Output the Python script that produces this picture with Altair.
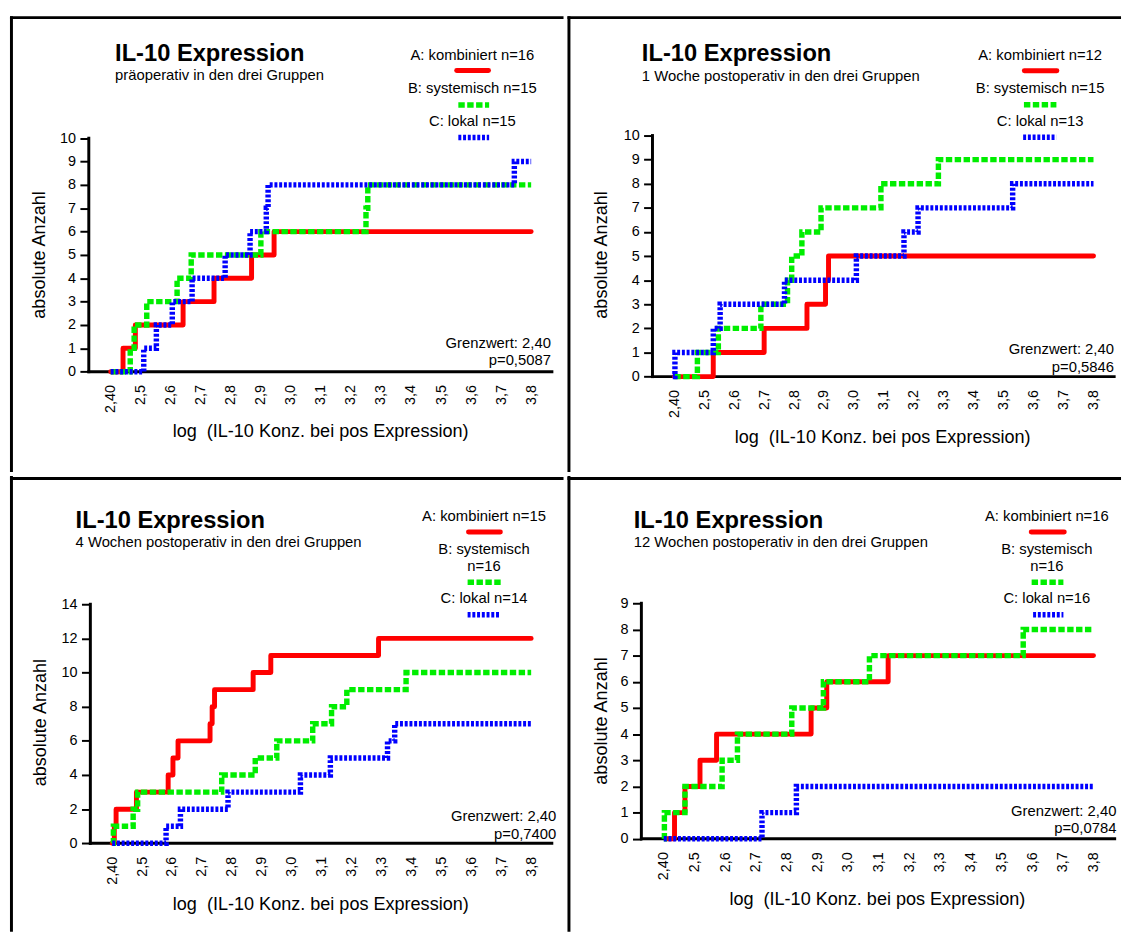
import altair as alt
import pandas as pd

# ---------------- data ----------------
x_tick_values = [2.4, 2.5, 2.6, 2.7, 2.8, 2.9, 3.0, 3.1, 3.2, 3.3, 3.4, 3.5, 3.6, 3.7, 3.8]
y_tick_values = [
    [0, 1, 2, 3, 4, 5, 6, 7, 8, 9, 10],
    [0, 1, 2, 3, 4, 5, 6, 7, 8, 9, 10],
    [0, 2, 4, 6, 8, 10, 12, 14],
    [0, 1, 2, 3, 4, 5, 6, 7, 8, 9],
]
y_max = [10, 10, 14, 9]

titles = ["IL-10 Expression", "IL-10 Expression", "IL-10 Expression", "IL-10 Expression"]
subtitles = [
    "präoperativ in den drei Gruppen",
    "1 Woche postoperativ in den drei Gruppen",
    "4 Wochen postoperativ in den drei Gruppen",
    "12 Wochen postoperativ in den drei Gruppen",
]
legend_texts = [
    ["A: kombiniert n=16", "B: systemisch n=15", "C: lokal n=15"],
    ["A: kombiniert n=12", "B: systemisch n=15", "C: lokal n=13"],
    ["A: kombiniert n=15", "B: systemisch\nn=16", "C: lokal n=14"],
    ["A: kombiniert n=16", "B: systemisch\nn=16", "C: lokal n=16"],
]
cutoff_text = "Grenzwert: 2,40"
p_texts = ["p=0,5087", "p=0,5846", "p=0,7400", "p=0,0784"]
y_title = "absolute Anzahl"
x_title = "log\u00a0 (IL-10 Konz. bei pos Expression)"

# Panel 1: präoperativ
p1_A_x = [2.40, 2.441, 2.482, 2.641, 2.744, 2.869, 2.944, 3.80]
p1_A_y = [0, 1, 2, 3, 4, 5, 6, 6]
p1_B_x = [2.40, 2.465, 2.478, 2.520, 2.621, 2.668, 2.900, 3.250, 3.256, 3.80]
p1_B_y = [0, 1, 2, 3, 4, 5, 6, 7, 8, 8]
p1_C_x = [2.40, 2.510, 2.552, 2.605, 2.671, 2.781, 2.864, 2.918, 2.924, 3.744, 3.80]
p1_C_y = [0, 1, 2, 3, 4, 5, 6, 7, 8, 9, 9]

# Panel 2: 1 Woche
p2_A_x = [2.40, 2.530, 2.700, 2.843, 2.905, 2.915, 3.80]
p2_A_y = [0, 1, 2, 3, 4, 5, 5]
p2_B_x = [2.40, 2.477, 2.547, 2.689, 2.778, 2.792, 2.826, 2.890, 3.090, 3.282, 3.80]
p2_B_y = [0, 1, 2, 3, 4, 5, 6, 7, 8, 9, 9]
p2_C_x = [2.395, 2.402, 2.530, 2.553, 2.768, 3.008, 3.167, 3.214, 3.530, 3.80]
p2_C_y = [0, 1, 2, 3, 4, 5, 6, 7, 8, 8]

# Panel 3: 4 Wochen
p3_A_x = [2.40, 2.407, 2.413, 2.481, 2.587, 2.603, 2.620, 2.727, 2.734, 2.742, 2.871, 2.930, 3.290, 3.80]
p3_A_y = [0, 1, 2, 3, 4, 5, 6, 7, 8, 9, 10, 11, 12, 12]
p3_B_x = [2.40, 2.404, 2.470, 2.485, 2.766, 2.878, 2.950, 3.070, 3.133, 3.184, 3.382, 3.80]
p3_B_y = [0, 1, 2, 3, 4, 5, 6, 7, 8, 9, 10, 10]
p3_C_x = [2.40, 2.580, 2.628, 2.787, 3.029, 3.129, 3.320, 3.344, 3.80]
p3_C_y = [0, 1, 2, 3, 4, 5, 6, 7, 7]

# Panel 4: 12 Wochen
p4_A_x = [2.41, 2.435, 2.469, 2.518, 2.572, 2.880, 2.931, 3.131, 3.80]
p4_A_y = [0, 1, 2, 3, 4, 5, 6, 7, 7]
p4_B_x = [2.40, 2.402, 2.469, 2.590, 2.640, 2.817, 2.920, 3.070, 3.571, 3.80]
p4_B_y = [0, 1, 2, 3, 4, 5, 6, 7, 8, 8]
p4_C_x = [2.40, 2.720, 2.832, 3.80]
p4_C_y = [0, 1, 2, 2]

series = [
    [(p1_A_x, p1_A_y), (p1_B_x, p1_B_y), (p1_C_x, p1_C_y)],
    [(p2_A_x, p2_A_y), (p2_B_x, p2_B_y), (p2_C_x, p2_C_y)],
    [(p3_A_x, p3_A_y), (p3_B_x, p3_B_y), (p3_C_x, p3_C_y)],
    [(p4_A_x, p4_A_y), (p4_B_x, p4_B_y), (p4_C_x, p4_C_y)],
]

# ---------------- layout / style ----------------
FONT = "Liberation Sans"
W, H = 561, 462
CELL_ORIGIN = [(8, 8), (569, 8), (8, 470), (569, 470)]
# page pixel of x=2.40, x=3.8, y=0, y=ymax
ANCHORS = [(110.1, 536.2, 368.3, 131.7), (677.3, 1102.1, 373.3, 129),
           (111.6, 536.2, 842.3, 600), (666.6, 1102.1, 837.7, 599)]
AXIS_X0, AXIS_X1 = 2.327, 3.869
TITLE_POS = [(114.5, 53, 73), (644.4, 53.3, 73.3), (74.5, 522.7, 542.3), (636.2, 522.7, 542.3)]
LEG_CX = [476.6, 1048.0, 488.4, 1054.8]
LEG_BASE = [[52, 86, 119], [52.3, 86, 119], [515.7, 549, 599], [515.7, 549, 599]]
LEG_SW = [
    [(460.7, 493, 63), (462.4, 493.6, 98), (462.4, 493.6, 131)],
    [(1032, 1065, 63.3), (1031.6, 1064.5, 97.7), (1030.8, 1064.5, 130.7)],
    [(472.7, 505, 526.7), (471.8, 505.3, 577.7), (471.8, 505.3, 610.7)],
    [(1039, 1072.5, 526.7), (1039.4, 1071.6, 577.7), (1040.9, 1071.6, 610.7)],
]
GRENZ = [(556.2, 344, 362), (1122.8, 350.7, 368.3), (561.6, 820, 837.7), (1125.3, 815, 831.7)]
YTITLE = [(38.2, 250), (604, 250), (39.3, 720), (604, 718.3)]
XTITLE = [(322.8, 435), (888.4, 440.7), (323, 910), (883.1, 905)]
BORDERS = [(1.5, 1.5), (1.5, 1.5), (1.5, 2.5), (1.5, 2.5)]  # (left x, top y) local

STYLES = [
    dict(color="#ff0000", strokeWidth=5, strokeCap="round", strokeJoin="round"),
    dict(color="#00ee00", strokeWidth=5.5, strokeDash=[6.5, 2.5], strokeCap="butt"),
    dict(color="#0000ff", strokeWidth=5.5, strokeDash=[3, 1.8], strokeCap="butt"),
]
SMALL = 15
TICKFS = 14.6
TITLEFS = 24
AXTITLEFS = 18.3
one = pd.DataFrame({"d": [0]})


def text(s, x, y, size=SMALL, align="left", weight="normal", angle=0, baseline="alphabetic"):
    return alt.Chart(one).mark_text(
        text=s, align=align, baseline=baseline, fontSize=size, fontWeight=weight,
        font=FONT, color="black", angle=angle,
    ).encode(x=alt.value(x), y=alt.value(y))


def panel(i):
    ox, oy = CELL_ORIGIN[i]
    x240, x380, y0, ytop = ANCHORS[i]
    k = (x380 - x240) / 1.4
    xdom = [2.4 + (ox - x240) / k, 2.4 + (ox + W - x240) / k]
    s = (y0 - ytop) / y_max[i]
    ydom = [(y0 - (oy + H)) / s, (y0 - oy) / s]
    xs = alt.Scale(domain=xdom, nice=False, zero=False)
    ys = alt.Scale(domain=ydom, nice=False, zero=False)
    ax_x_local = (AXIS_X0 - xdom[0]) / (xdom[1] - xdom[0]) * W
    ax_y_local = y0 - oy

    xaxis = alt.Axis(
        values=x_tick_values,
        labelExpr="datum.value < 2.45 ? '2,40' : replace(format(datum.value, '.1f'), '.', ',')",
        labelAngle=270, labelAlign="right", labelBaseline="middle",
        offset=ax_y_local - H, domain=False, ticks=False, tickSize=0, grid=False,
        labelPadding=13, title=None, labelFont=FONT, labelFontSize=TICKFS,
        labelColor="black", labelFlush=False, labelOverlap=False,
    )
    yaxis = alt.Axis(
        values=y_tick_values[i], format="d", offset=-ax_x_local, domain=False,
        ticks=True, tickSize=9, tickWidth=2, tickColor="black", grid=False,
        labelPadding=4.5, title=None, labelFont=FONT, labelFontSize=TICKFS,
        labelColor="black", labelFlush=False, labelOverlap=False,
    )

    layers = []
    # axis lines drawn through the scales
    axdf = pd.DataFrame({"x0": [AXIS_X0], "x1": [AXIS_X1], "z": [0], "ym": [y_max[i]]})
    layers.append(
        alt.Chart(axdf).mark_rule(color="black", strokeWidth=3, strokeCap="square").encode(
            x=alt.X("x0:Q", scale=xs, axis=xaxis), x2="x1:Q",
            y=alt.Y("z:Q", scale=ys, axis=yaxis),
        )
    )
    layers.append(
        alt.Chart(axdf).mark_rule(color="black", strokeWidth=3, strokeCap="square").encode(
            x=alt.X("x0:Q", scale=xs, axis=xaxis),
            y=alt.Y("z:Q", scale=ys, axis=yaxis), y2="ym:Q",
        )
    )
    # step lines
    for (xv, yv), st in zip(series[i], STYLES):
        df = pd.DataFrame({"x0": xv, "z": yv})
        layers.append(
            alt.Chart(df).mark_line(interpolate="step-after", **st).encode(
                x=alt.X("x0:Q", scale=xs, axis=xaxis),
                y=alt.Y("z:Q", scale=ys, axis=yaxis),
            )
        )
    # titles
    tx, ty, sy = TITLE_POS[i]
    layers.append(text(titles[i], tx - ox, ty - oy, size=TITLEFS, weight="bold"))
    layers.append(text(subtitles[i], tx - ox, sy - oy))
    # legend
    for j, lab in enumerate(legend_texts[i]):
        for n, line in enumerate(lab.split("\n")):
            layers.append(text(line, LEG_CX[i] - ox, LEG_BASE[i][j] + 17 * n - oy, align="center"))
        x1, x2, yy = LEG_SW[i][j]
        layers.append(
            alt.Chart(one).mark_rule(**STYLES[j]).encode(
                x=alt.value(x1 - ox), x2=alt.value(x2 - ox), y=alt.value(yy - oy)
            )
        )
    # cutoff and p value
    gx, g1, g2 = GRENZ[i]
    layers.append(text(cutoff_text, gx - ox, g1 - oy, align="right"))
    layers.append(text(p_texts[i], gx - ox, g2 - oy, align="right"))
    # axis titles
    yx, yy_ = YTITLE[i]
    layers.append(text(y_title, yx - ox, yy_ - oy, size=AXTITLEFS, align="center", angle=270, baseline="middle"))
    xx, xy = XTITLE[i]
    layers.append(text(x_title, xx - ox, xy - oy, size=AXTITLEFS, align="center"))
    # frame lines (top and left of each cell)
    bx, by = BORDERS[i]
    layers.append(
        alt.Chart(one).mark_rule(color="black", strokeWidth=3).encode(
            x=alt.value(0), x2=alt.value(W), y=alt.value(by)
        )
    )
    layers.append(
        alt.Chart(one).mark_rule(color="black", strokeWidth=3).encode(
            x=alt.value(bx), y=alt.value(0), y2=alt.value(H)
        )
    )
    return alt.layer(*layers).properties(width=W, height=H)


chart = alt.vconcat(
    alt.hconcat(panel(0), panel(1), spacing=0),
    alt.hconcat(panel(2), panel(3), spacing=0),
    spacing=0,
).properties(padding=0, background="white").configure_view(stroke=None)

chart.save("out.html", embed_options={"renderer": "svg", "actions": False})
